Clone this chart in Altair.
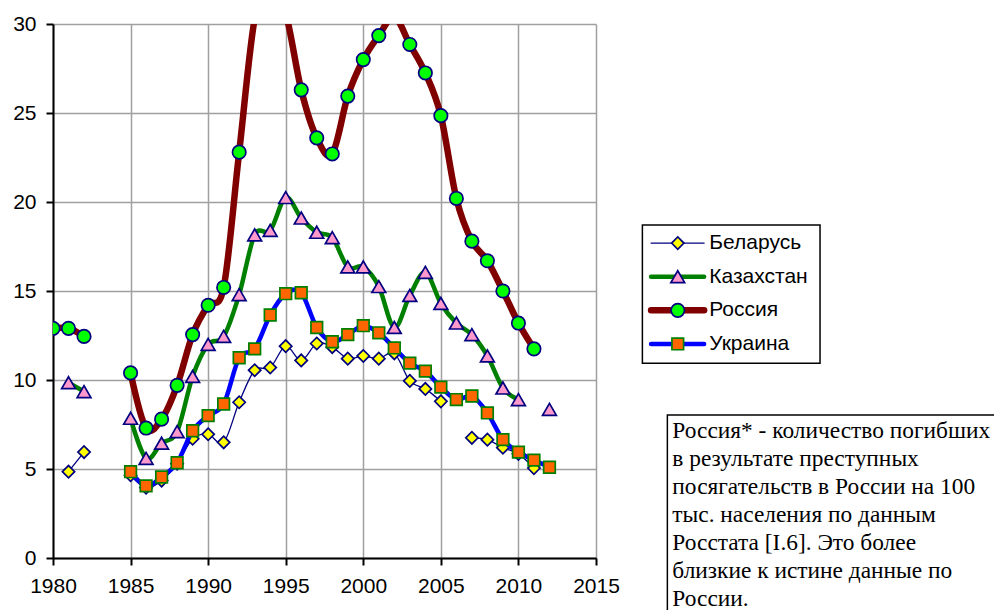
import altair as alt
import pandas as pd

# ---------------- data ----------------
years = list(range(1980, 2013))

belarus = [None, 4.85, 5.95, None, None, 4.65, 3.95, 4.35, 5.3, 6.7,
           6.95, 6.5, 8.75, 10.55, 10.7, 11.9, 11.1, 12.05, 11.85, 11.2,
           11.35, 11.2, 11.5, 9.95, 9.5, 8.8, None, 6.75, 6.65, 6.2,
           5.85, 5.05, None]

kazakhstan = [None, 9.85, 9.35, None, None, 7.85, 5.6, 6.45, 7.1, 10.2,
              12.0, 12.45, 14.8, 18.15, 18.4, 20.25, 19.1, 18.3, 18.0, 16.35,
              16.35, 15.25, 12.95, 14.75, 16.05, 14.3, 13.2, 12.55, 11.35, 9.55,
              8.9, None, 8.35]

russia = [12.9, 12.9, 12.45, None, None, 10.4, 7.3, 7.8, 9.7, 12.55,
          14.2, 15.2, 22.8, 30.3, 32.3, 30.6, 26.3, 23.6, 22.7, 25.95,
          28.0, 29.35, 30.4, 28.85, 27.25, 24.85, 20.2, 17.8, 16.7, 15.0,
          13.2, 11.75, None]

ukraine = [None, None, None, None, None, 4.85, 4.05, 4.55, 5.35, 7.15,
           8.0, 8.65, 11.25, 11.75, 13.65, 14.85, 14.9, 12.95, 12.15, 12.55,
           13.05, 12.65, 11.8, 10.95, 10.5, 9.6, 8.9, 9.1, 8.15, 6.65,
           5.95, 5.5, 5.1]

countries = ["Беларусь", "Казахстан", "Россия", "Украина"]
series = [belarus, kazakhstan, russia, ukraine]

x_ticks = [1980, 1985, 1990, 1995, 2000, 2005, 2010, 2015]
y_ticks = [0, 5, 10, 15, 20, 25, 30]

note_lines = [
    "Россия* - количество погибших",
    "в результате преступных",
    "посягательств в России на 100",
    "тыс. населения по данным",
    "Росстата [I.6]. Это более",
    "близкие к истине данные по",
    "России.",
]

# ---------------- styles ----------------
styles = {
    "Беларусь": dict(line="#000080", lw=1.3, shape="diamond", fill="#FFFF00", stroke="#000080", size=150),
    "Казахстан": dict(line="#008000", lw=4.5, shape="triangle-up", fill="#FF99CC", stroke="#000080", size=190),
    "Россия": dict(line="#800000", lw=6.5, shape="circle", fill="#00FF00", stroke="#000080", size=180),
    "Украина": dict(line="#0000FF", lw=4.5, shape="square", fill="#FF6600", stroke="#008000", size=135),
}

# ---------------- table ----------------
rows = []
for c, vals in zip(countries, series):
    seg = 0
    prev = None
    for yr, v in zip(years, vals):
        if v is None:
            prev = None
            continue
        if prev is None:
            seg += 1
        rows.append(dict(country=c, year=yr, value=v, seg=f"{c}-{seg}"))
        prev = v
df = pd.DataFrame(rows)

xs = alt.Scale(domain=[1980, 2015], nice=False, zero=False)
ys = alt.Scale(domain=[0, 30], nice=False)

axis_common = dict(
    grid=True, gridColor="#a0a0a0", gridWidth=1.5,
    domainColor="black", domainWidth=2,
    tickColor="black", tickWidth=2, tickSize=7,
    labelFont="Liberation Sans", labelFontSize=21, labelColor="black",
    title=None,
)
xaxis = alt.Axis(values=x_ticks, format="d", labelPadding=10, labelFlush=False, **axis_common)
yaxis = alt.Axis(values=y_ticks, format="d", labelPadding=10, **axis_common)

def X(field):
    return alt.X(field, type="quantitative", scale=xs, axis=xaxis)

def Y(field):
    return alt.Y(field, type="quantitative", scale=ys, axis=yaxis)

layers = []
for c in countries:
    st = styles[c]
    d = df[df.country == c]
    line = alt.Chart(d).mark_line(
        interpolate="cardinal", color=st["line"], strokeWidth=st["lw"],
        clip=True, strokeJoin="round", strokeCap="round",
    ).encode(x=X("year"), y=Y("value"), detail="seg:N")
    pts = alt.Chart(d).transform_filter("datum.value <= 30").mark_point(
        shape=st["shape"], filled=True, fill=st["fill"], stroke=st["stroke"],
        strokeWidth=1.7, size=st["size"], opacity=1, clip=True,
    ).encode(x=X("year"), y=Y("value"))
    layers += [line, pts]

# ---------------- legend (drawn from data, in axis units) ----------------
leg_top = 17.69
leg_step = 1.888
leg = pd.DataFrame({
    "country": countries,
    "ly": [leg_top - i * leg_step for i in range(len(countries))],
})
leg["lx1"] = 2018.55
leg["lx2"] = 2021.97
leg["lxm"] = 2020.27
leg["lxt"] = 2022.3

box = pd.DataFrame({"bx1": [2017.99], "bx2": [2029.44], "by1": [18.71], "by2": [10.94]})
legend_box = alt.Chart(box).mark_rect(fill="white", stroke="black", strokeWidth=1.5).encode(
    x=X("bx1"), x2="bx2", y=Y("by1"), y2="by2")
layers.append(legend_box)

for c in countries:
    st = styles[c]
    d = leg[leg.country == c]
    layers.append(alt.Chart(d).mark_rule(color=st["line"], strokeWidth=st["lw"], strokeCap="round").encode(
        x=X("lx1"), x2="lx2", y=Y("ly")))
    layers.append(alt.Chart(d).mark_point(
        shape=st["shape"], filled=True, fill=st["fill"], stroke=st["stroke"],
        strokeWidth=1.7, size=st["size"], opacity=1).encode(x=X("lxm"), y=Y("ly")))
layers.append(alt.Chart(leg).mark_text(
    align="left", baseline="middle", font="Liberation Sans", fontSize=21, color="black",
).encode(x=X("lxt"), y=Y("ly"), text="country:N"))

# ---------------- note box ----------------
note = pd.DataFrame({"bx1": [2019.6], "bx2": [2045.0], "by1": [8.03], "by2": [-5.0],
                     "tx": [2019.92], "ty": [6.74], "txt": ["\n".join(note_lines)]})
layers.append(alt.Chart(note).mark_rect(fill="white", stroke="black", strokeWidth=1.5).encode(
    x=X("bx1"), x2="bx2", y=Y("by1"), y2="by2"))
layers.append(alt.Chart(note).mark_text(
    align="left", baseline="alphabetic", font="Liberation Serif", fontSize=23.4,
    lineHeight=28, lineBreak="\n", color="black",
).encode(x=X("tx"), y=Y("ty"), text="txt:N"))

chart = alt.layer(*layers).properties(
    width=543, height=534,
    autosize=alt.AutoSizeParams(type="none"),
    padding={"left": 45, "top": 16, "right": 398, "bottom": 52},
    background="white",
).configure_view(stroke=None)

chart.save("out.html", embed_options={"renderer": "svg", "actions": False})
